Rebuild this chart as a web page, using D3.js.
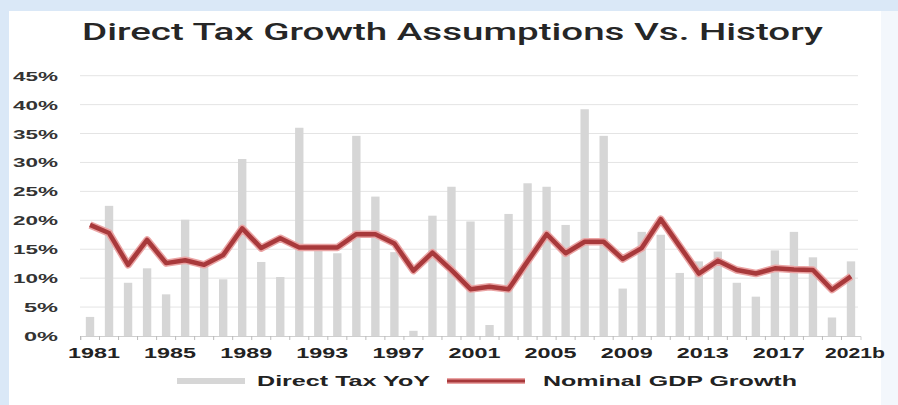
<!DOCTYPE html>
<html>
<head>
<meta charset="utf-8">
<script src="https://cdn.jsdelivr.net/npm/d3@7"></script>
<style>
  body { margin: 0; background: #dae8f7; }
  svg { display: block; }
</style>
</head>
<body>
<div id="chart"></div>
<script>
// data
const years = ["1981","1982","1983","1984","1985","1986","1987","1988","1989","1990",
  "1991","1992","1993","1994","1995","1996","1997","1998","1999","2000",
  "2001","2002","2003","2004","2005","2006","2007","2008","2009","2010",
  "2011","2012","2013","2014","2015","2016","2017","2018","2019","2020","2021b"];
const directTax = [3.3, 22.5, 9.2, 11.7, 7.2, 20.1, 12.5, 9.8, 30.6, 12.8,
  10.2, 36.0, 14.8, 14.3, 34.6, 24.1, 14.5, 0.9, 20.8, 25.8,
  19.8, 1.9, 21.1, 26.4, 25.8, 19.2, 39.2, 34.6, 8.2, 18.0,
  17.5, 10.9, 12.9, 14.6, 9.2, 6.8, 14.8, 18.0, 13.6, 3.2, 12.9];
const nominalGdp = [19.2, 17.8, 12.3, 16.6, 12.6, 13.1, 12.3, 14.0, 18.6, 15.2,
  16.9, 15.3, 15.3, 15.3, 17.6, 17.6, 16.0, 11.3, 14.4, 11.4,
  8.1, 8.5, 8.1, 12.9, 17.6, 14.3, 16.3, 16.3, 13.3, 15.2,
  20.2, 15.5, 10.8, 13.0, 11.4, 10.8, 11.7, 11.5, 11.4, 8.0, 10.3];
const yTicks = [0, 5, 10, 15, 20, 25, 30, 35, 40, 45];
const xLabels = ["1981","1985","1989","1993","1997","2001","2005","2009","2013","2017","2021b"];

const W = 898, H = 405;
const svg = d3.select("#chart").append("svg")
    .attr("width", W)
    .attr("height", H);

// white panel
svg.append("rect")
    .attr("x", 9).attr("y", 11)
    .attr("width", 872).attr("height", H - 11)
    .attr("fill", "#fff");
svg.append("rect")
    .attr("x", 881).attr("y", 11)
    .attr("width", W - 881).attr("height", H - 11)
    .attr("fill", "#f3f7fc");

svg.append("text")
    .attr("x", 82).attr("y", 40)
    .attr("textLength", 741)
    .attr("lengthAdjust", "spacingAndGlyphs")
    .style("font-family", "Roboto, 'Liberation Sans', sans-serif")
    .style("font-weight", "500")
    .style("font-size", "23px")
    .attr("fill", "#262626")
    .text("Direct Tax Growth Assumptions Vs. History");

const x = d3.scaleBand()
    .domain(years)
    .range([80.5, 860.5])
    .paddingInner(0.56)
    .paddingOuter(0.28);

const y = d3.scaleLinear()
    .domain([0, 45])
    .range([336, 75.7]);

// grid
svg.append("g")
    .selectAll("line")
    .data(yTicks.filter(d => d > 0))
    .enter().append("line")
    .attr("x1", 80).attr("x2", 858)
    .attr("y1", d => y(d)).attr("y2", d => y(d))
    .attr("stroke", "#e4e4e4")
    .attr("stroke-width", 1);

// y labels
svg.append("g")
    .selectAll("text")
    .data(yTicks)
    .enter().append("text")
    .attr("x", 13)
    .attr("y", d => y(d) + 5)
    .attr("textLength", d => d < 10 ? 34 : 45)
    .attr("lengthAdjust", "spacingAndGlyphs")
    .attr("dx", d => d < 10 ? 11 : 0)
    .style("font-family", "'Liberation Sans', Arial, sans-serif")
    .style("font-weight", "bold")
    .style("font-size", "13px")
    .attr("fill", "#333")
    .text(d => d + "%");

// bars
svg.append("g")
    .selectAll("rect")
    .data(years)
    .enter().append("rect")
    .attr("x", d => x(d))
    .attr("y", (d, i) => y(directTax[i]))
    .attr("width", x.bandwidth())
    .attr("height", (d, i) => y(0) - y(directTax[i]))
    .attr("fill", "#d6d6d6");

// x axis
const axis = svg.append("g")
    .attr("transform", "translate(0," + y(0) + ")")
    .call(d3.axisBottom(x).tickSize(4).tickFormat(""));
axis.select(".domain").attr("stroke", "#cfcfcf");
axis.selectAll(".tick line")
    .attr("stroke", "#bbb")
    .attr("transform", "translate(" + (-x.step() / 2) + ",0)");

svg.append("g")
    .selectAll("text")
    .data(xLabels)
    .enter().append("text")
    .attr("x", d => x(d) + x.bandwidth() / 2 + 4)
    .attr("y", 358)
    .attr("text-anchor", "middle")
    .attr("textLength", d => d.length > 4 ? 60 : 52)
    .attr("lengthAdjust", "spacingAndGlyphs")
    .style("font-family", "'Liberation Sans', Arial, sans-serif")
    .style("font-weight", "bold")
    .style("font-size", "14px")
    .attr("fill", "#222")
    .text(d => d);

// line
const line = d3.line()
    .x((d, i) => x(years[i]) + x.bandwidth() / 2)
    .y(d => y(d));

svg.append("path")
    .datum(nominalGdp)
    .attr("d", line)
    .attr("fill", "none")
    .attr("stroke", "#eaa4a4")
    .attr("stroke-width", 7.5)
    .attr("stroke-linejoin", "round");
svg.append("path")
    .datum(nominalGdp)
    .attr("d", line)
    .attr("fill", "none")
    .attr("stroke", "#a8393b")
    .attr("stroke-width", 4.5)
    .attr("stroke-linejoin", "round");

// legend
const lg = svg.append("g");
lg.append("line")
    .attr("x1", 177).attr("x2", 245)
    .attr("y1", 381).attr("y2", 381)
    .attr("stroke", "#d6d6d6").attr("stroke-width", 6);
lg.append("text")
    .attr("x", 257).attr("y", 386)
    .attr("textLength", 173)
    .attr("lengthAdjust", "spacingAndGlyphs")
    .style("font-family", "'Liberation Sans', Arial, sans-serif")
    .style("font-weight", "bold")
    .style("font-size", "14px")
    .attr("fill", "#222")
    .text("Direct Tax YoY");
lg.append("line")
    .attr("x1", 447).attr("x2", 525)
    .attr("y1", 381).attr("y2", 381)
    .attr("stroke", "#eaa4a4").attr("stroke-width", 6);
lg.append("line")
    .attr("x1", 447).attr("x2", 525)
    .attr("y1", 381).attr("y2", 381)
    .attr("stroke", "#a8393b").attr("stroke-width", 3);
lg.append("text")
    .attr("x", 543).attr("y", 386)
    .attr("textLength", 254)
    .attr("lengthAdjust", "spacingAndGlyphs")
    .style("font-family", "'Liberation Sans', Arial, sans-serif")
    .style("font-weight", "bold")
    .style("font-size", "14px")
    .attr("fill", "#222")
    .text("Nominal GDP Growth");
</script>
</body>
</html>
